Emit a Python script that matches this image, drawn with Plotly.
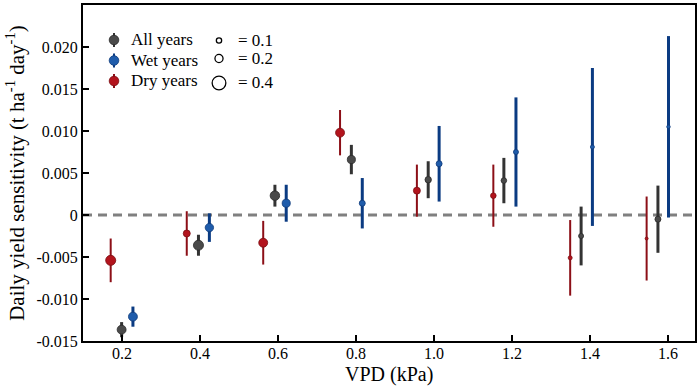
import plotly.graph_objects as go

# ---------------- data ----------------
vpd_dry = [0.171, 0.366, 0.562, 0.759, 0.956, 1.152, 1.349, 1.545]
vpd_all = [0.199, 0.396, 0.592, 0.788, 0.985, 1.179, 1.377, 1.574]
vpd_wet = [0.228, 0.424, 0.621, 0.816, 1.013, 1.210, 1.406, 1.601]

sens_dry = [-0.0054, -0.0022, -0.0033, 0.0098, 0.0029, 0.0023, -0.0051, -0.0028]
sens_all = [-0.01365, -0.0036, 0.0023, 0.0066, 0.0042, 0.0041, -0.0025, -0.0005]
sens_wet = [-0.0121, -0.0015, 0.0014, 0.0014, 0.0061, 0.0075, 0.0081, 0.0105]

ci_dry = [0.0026, 0.00265, 0.0026, 0.0027, 0.0031, 0.0037, 0.0045, 0.0050]
ci_all = [0.0009, 0.00125, 0.0013, 0.00175, 0.0022, 0.0027, 0.0035, 0.0040]
ci_wet = [0.0012, 0.0017, 0.0022, 0.0030, 0.0045, 0.0065, 0.0094, 0.0108]

frac_dry = [0.27, 0.16, 0.23, 0.23, 0.16, 0.11, 0.054, 0.018]
frac_all = [0.23, 0.27, 0.25, 0.20, 0.14, 0.11, 0.09, 0.125]
frac_wet = [0.23, 0.21, 0.20, 0.125, 0.125, 0.09, 0.054, 0.036]

size_legend_vals = [0.1, 0.2, 0.4]
size_legend_text = ["= 0.1", "= 0.2", "= 0.4"]
group_names = ["All years", "Wet years", "Dry years"]

x_tickvals = [0.2, 0.4, 0.6, 0.8, 1.0, 1.2, 1.4, 1.6]
x_ticktext = ["0.2", "0.4", "0.6", "0.8", "1.0", "1.2", "1.4", "1.6"]
y_tickvals = [-0.015, -0.010, -0.005, 0, 0.005, 0.010, 0.015, 0.020, 0.025]
y_ticktext = ["-0.015", "-0.010", "-0.005", "0", "0.005", "0.010", "0.015", "0.020", "0.025"]

x_title = "VPD (kPa)"
y_title = "Daily yield sensitivity (t ha<sup>-1</sup> day<sup>-1</sup>)"

# ---------------- styles ----------------
FONT = "Liberation Serif, Times New Roman, serif"
styles = {
    "All years": dict(fill="#4a4a4a", edge="#2a2a2a", bar="#333333", bw=3),
    "Wet years": dict(fill="#1f5cab", edge="#0e3a7a", bar="#0b3b82", bw=3),
    "Dry years": dict(fill="#b3141d", edge="#7a0d12", bar="#8c0f17", bw=2),
}


def diam(p):
    return 2.5 + 28 * p


fig = go.Figure()

series = [
    ("Dry years", vpd_dry, sens_dry, ci_dry, frac_dry),
    ("All years", vpd_all, sens_all, ci_all, frac_all),
    ("Wet years", vpd_wet, sens_wet, ci_wet, frac_wet),
]

# zero line
fig.add_shape(type="line", xref="paper", yref="y", x0=0, x1=1, y0=0, y1=0,
              line=dict(color="#808080", width=3, dash="9px,6px"), layer="below")

for name, xs, ys, cis, fr in series:
    st = styles[name]
    fig.add_trace(go.Scatter(
        x=xs, y=ys, mode="markers", name=name, showlegend=False,
        error_y=dict(type="data", array=cis, visible=True, color=st["bar"],
                     thickness=st["bw"], width=0),
        marker=dict(size=[diam(p) for p in fr], color=st["fill"], opacity=1,
                    line=dict(color=st["edge"], width=0.8)),
    ))

# ---------------- custom legend ----------------
L, R, T, B = 83, 695, 5, 341
W, H = R - L, B - T


def px(xp):
    return (xp - L) / W


def py(yp):
    return (B - yp) / H


shapes = []
annotations = []
leg_rows = [40, 60.5, 81]
for name, yy in zip(group_names, leg_rows):
    st = styles[name]
    shapes.append(dict(type="line", xref="paper", yref="paper", xsizemode="pixel",
                       ysizemode="pixel", xanchor=px(114), yanchor=py(yy),
                       x0=0, x1=0, y0=-7, y1=7,
                       line=dict(color=st["bar"], width=2)))
    shapes.append(dict(type="circle", xref="paper", yref="paper", xsizemode="pixel",
                       ysizemode="pixel", xanchor=px(114), yanchor=py(yy),
                       x0=-4.8, x1=4.8, y0=-4.8, y1=4.8,
                       fillcolor=st["fill"], line=dict(color=st["edge"], width=0.8)))
    annotations.append(dict(xref="paper", yref="paper", x=px(129), y=py(yy),
                            xanchor="left", yanchor="middle", showarrow=False,
                            text=name, font=dict(family=FONT, size=17, color="black")))

size_rows = [40.5, 58.5, 83]
for v, t, yy in zip(size_legend_vals, size_legend_text, size_rows):
    r = diam(v) / 2
    shapes.append(dict(type="circle", xref="paper", yref="paper", xsizemode="pixel",
                       ysizemode="pixel", xanchor=px(219), yanchor=py(yy),
                       x0=-r, x1=r, y0=-r, y1=r,
                       fillcolor="white", line=dict(color="black", width=1.3)))
    annotations.append(dict(xref="paper", yref="paper", x=px(236), y=py(yy),
                            xanchor="left", yanchor="middle", showarrow=False,
                            text=t, font=dict(family=FONT, size=17, color="black")))

# x-axis title as annotation (precise placement)
annotations.append(dict(xref="paper", yref="paper", x=0.5, y=py(387),
                        xanchor="center", yanchor="bottom", showarrow=False,
                        borderpad=0,
                        text=x_title, font=dict(family=FONT, size=20, color="black")))

for s in shapes:
    fig.add_shape(**s)
for a in annotations:
    fig.add_annotation(**a)

fig.update_layout(
    width=699, height=387,
    margin=dict(l=L, r=699 - R, t=T, b=387 - B, autoexpand=False),
    paper_bgcolor="white", plot_bgcolor="white",
    font=dict(family=FONT, size=16, color="black"),
    showlegend=False,
)
fig.update_xaxes(
    range=[0.1, 1.669], tickvals=x_tickvals, ticktext=x_ticktext,
    ticks="inside", ticklen=6, tickwidth=2, tickcolor="black",
    ticklabelstandoff=-3,
    showline=True, linecolor="black", linewidth=2, mirror=True,
    showgrid=False, zeroline=False,
    tickfont=dict(family=FONT, size=16),
)
fig.update_yaxes(
    range=[-0.015, 0.025], tickvals=y_tickvals, ticktext=y_ticktext,
    ticks="inside", ticklen=6, tickwidth=2, tickcolor="black",
    showline=True, linecolor="black", linewidth=2, mirror=True,
    showgrid=False, zeroline=False,
    tickfont=dict(family=FONT, size=16),
    title=dict(text=y_title, font=dict(family=FONT, size=21), standoff=6),
)

fig.write_html("out.html", config={"displayModeBar": False},
               post_script="document.body.style.margin='0';")
